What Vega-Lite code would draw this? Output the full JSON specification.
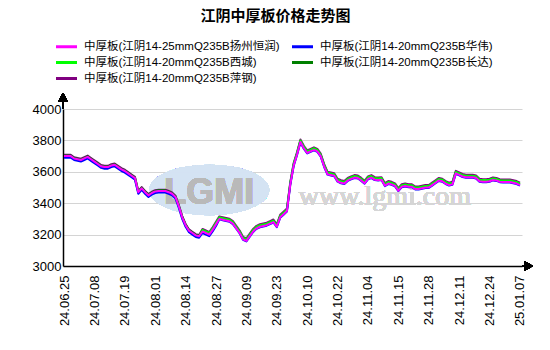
{
"$schema":"https://vega.github.io/schema/vega-lite/v6.json",
"width":459,"height":157,
"autosize":"none",
"padding":{"left":63,"top":109,"right":28,"bottom":84},
"background":"white",
"config":{"view":{"stroke":null},"font":"Liberation Sans, Noto Sans CJK SC",
 "axis":{"labelOverlap":false,"labelFlush":false,"ticks":false,"domainColor":"black","domainWidth":1.5,"labelColor":"black","labelFontSize":13,"title":null},
 "axisX":{"grid":false,"labelAngle":270,"labelPadding":9,
   "labelExpr":"['24.06.25','24.07.08','24.07.19','24.08.01','24.08.14','24.08.27','24.09.09','24.09.23','24.10.10','24.10.22','24.11.04','24.11.15','24.11.28','24.12.11','24.12.24','25.01.07'][round(datum.value/9)]"},
 "axisY":{"grid":true,"gridColor":"#d4d4d4","labelPadding":2,"format":"d"}},
"title":{"text":"江阴中厚板价格走势图","fontSize":15,"fontWeight":"bold","font":"Liberation Sans, Noto Sans CJK SC","color":"black","anchor":"middle","frame":"group","dx":-17,"offset":15},
"data":{"values":[
{"i":0,"d":"24.06.25","hr":3700,"hw":3690,"xc":3697,"cd":3704,"pg":3708},
{"i":1,"d":"24.06.26","hr":3700,"hw":3690,"xc":3697,"cd":3704,"pg":3708},
{"i":2,"d":"24.06.27","hr":3700,"hw":3690,"xc":3697,"cd":3704,"pg":3708},
{"i":3,"d":"24.06.28","hr":3685,"hw":3675,"xc":3682,"cd":3689,"pg":3693},
{"i":4,"d":"24.07.01","hr":3680,"hw":3670,"xc":3677,"cd":3684,"pg":3688},
{"i":5,"d":"24.07.02","hr":3675,"hw":3665,"xc":3672,"cd":3679,"pg":3683},
{"i":6,"d":"24.07.03","hr":3685,"hw":3675,"xc":3682,"cd":3689,"pg":3693},
{"i":7,"d":"24.07.04","hr":3695,"hw":3685,"xc":3692,"cd":3699,"pg":3703},
{"i":8,"d":"24.07.05","hr":3680,"hw":3670,"xc":3677,"cd":3684,"pg":3688},
{"i":9,"d":"24.07.08","hr":3665,"hw":3655,"xc":3662,"cd":3669,"pg":3673},
{"i":10,"d":"24.07.09","hr":3650,"hw":3640,"xc":3647,"cd":3654,"pg":3658},
{"i":11,"d":"24.07.10","hr":3635,"hw":3625,"xc":3632,"cd":3639,"pg":3643},
{"i":12,"d":"24.07.11","hr":3630,"hw":3620,"xc":3627,"cd":3634,"pg":3638},
{"i":13,"d":"24.07.12","hr":3630,"hw":3620,"xc":3627,"cd":3634,"pg":3638},
{"i":14,"d":"24.07.15","hr":3640,"hw":3630,"xc":3637,"cd":3644,"pg":3648},
{"i":15,"d":"24.07.16","hr":3645,"hw":3635,"xc":3642,"cd":3649,"pg":3653},
{"i":16,"d":"24.07.17","hr":3630,"hw":3620,"xc":3627,"cd":3634,"pg":3638},
{"i":17,"d":"24.07.18","hr":3615,"hw":3605,"xc":3612,"cd":3619,"pg":3623},
{"i":18,"d":"24.07.19","hr":3605,"hw":3595,"xc":3602,"cd":3609,"pg":3613},
{"i":19,"d":"24.07.22","hr":3590,"hw":3580,"xc":3587,"cd":3594,"pg":3598},
{"i":20,"d":"24.07.23","hr":3575,"hw":3565,"xc":3572,"cd":3579,"pg":3583},
{"i":21,"d":"24.07.24","hr":3560,"hw":3550,"xc":3557,"cd":3564,"pg":3568},
{"i":22,"d":"24.07.25","hr":3470,"hw":3460,"xc":3467,"cd":3474,"pg":3478},
{"i":23,"d":"24.07.26","hr":3495,"hw":3485,"xc":3492,"cd":3499,"pg":3503},
{"i":24,"d":"24.07.29","hr":3470,"hw":3460,"xc":3467,"cd":3474,"pg":3478},
{"i":25,"d":"24.07.30","hr":3450,"hw":3440,"xc":3447,"cd":3454,"pg":3458},
{"i":26,"d":"24.07.31","hr":3465,"hw":3455,"xc":3462,"cd":3469,"pg":3473},
{"i":27,"d":"24.08.01","hr":3475,"hw":3465,"xc":3472,"cd":3479,"pg":3483},
{"i":28,"d":"24.08.02","hr":3478,"hw":3468,"xc":3475,"cd":3482,"pg":3486},
{"i":29,"d":"24.08.05","hr":3478,"hw":3468,"xc":3475,"cd":3482,"pg":3486},
{"i":30,"d":"24.08.06","hr":3478,"hw":3468,"xc":3475,"cd":3482,"pg":3486},
{"i":31,"d":"24.08.07","hr":3470,"hw":3460,"xc":3467,"cd":3474,"pg":3478},
{"i":32,"d":"24.08.08","hr":3460,"hw":3450,"xc":3457,"cd":3464,"pg":3468},
{"i":33,"d":"24.08.09","hr":3440,"hw":3430,"xc":3437,"cd":3444,"pg":3448},
{"i":34,"d":"24.08.12","hr":3380,"hw":3370,"xc":3377,"cd":3384,"pg":3388},
{"i":35,"d":"24.08.13","hr":3310,"hw":3300,"xc":3307,"cd":3314,"pg":3318},
{"i":36,"d":"24.08.14","hr":3260,"hw":3250,"xc":3257,"cd":3264,"pg":3268},
{"i":37,"d":"24.08.15","hr":3225,"hw":3215,"xc":3222,"cd":3229,"pg":3233},
{"i":38,"d":"24.08.16","hr":3210,"hw":3200,"xc":3207,"cd":3214,"pg":3218},
{"i":39,"d":"24.08.19","hr":3195,"hw":3185,"xc":3192,"cd":3199,"pg":3203},
{"i":40,"d":"24.08.20","hr":3190,"hw":3180,"xc":3187,"cd":3194,"pg":3198},
{"i":41,"d":"24.08.21","hr":3220,"hw":3210,"xc":3230,"cd":3227,"pg":3236},
{"i":42,"d":"24.08.22","hr":3210,"hw":3200,"xc":3220,"cd":3217,"pg":3226},
{"i":43,"d":"24.08.23","hr":3200,"hw":3190,"xc":3210,"cd":3207,"pg":3216},
{"i":44,"d":"24.08.26","hr":3230,"hw":3220,"xc":3240,"cd":3237,"pg":3246},
{"i":45,"d":"24.08.27","hr":3265,"hw":3255,"xc":3275,"cd":3272,"pg":3281},
{"i":46,"d":"24.08.28","hr":3300,"hw":3297,"xc":3310,"cd":3307,"pg":3316},
{"i":47,"d":"24.08.29","hr":3295,"hw":3292,"xc":3305,"cd":3302,"pg":3311},
{"i":48,"d":"24.08.30","hr":3290,"hw":3287,"xc":3300,"cd":3297,"pg":3306},
{"i":49,"d":"24.09.02","hr":3285,"hw":3282,"xc":3295,"cd":3292,"pg":3301},
{"i":50,"d":"24.09.03","hr":3270,"hw":3267,"xc":3280,"cd":3277,"pg":3286},
{"i":51,"d":"24.09.04","hr":3240,"hw":3237,"xc":3250,"cd":3247,"pg":3256},
{"i":52,"d":"24.09.05","hr":3210,"hw":3207,"xc":3220,"cd":3217,"pg":3226},
{"i":53,"d":"24.09.06","hr":3170,"hw":3167,"xc":3180,"cd":3177,"pg":3186},
{"i":54,"d":"24.09.09","hr":3160,"hw":3157,"xc":3170,"cd":3167,"pg":3176},
{"i":55,"d":"24.09.10","hr":3190,"hw":3187,"xc":3200,"cd":3197,"pg":3206},
{"i":56,"d":"24.09.11","hr":3220,"hw":3217,"xc":3230,"cd":3227,"pg":3236},
{"i":57,"d":"24.09.12","hr":3240,"hw":3237,"xc":3250,"cd":3247,"pg":3256},
{"i":58,"d":"24.09.13","hr":3250,"hw":3247,"xc":3260,"cd":3257,"pg":3266},
{"i":59,"d":"24.09.14","hr":3255,"hw":3252,"xc":3265,"cd":3262,"pg":3271},
{"i":60,"d":"24.09.18","hr":3260,"hw":3257,"xc":3270,"cd":3267,"pg":3276},
{"i":61,"d":"24.09.19","hr":3270,"hw":3267,"xc":3280,"cd":3277,"pg":3286},
{"i":62,"d":"24.09.20","hr":3280,"hw":3277,"xc":3290,"cd":3287,"pg":3296},
{"i":63,"d":"24.09.23","hr":3250,"hw":3247,"xc":3260,"cd":3257,"pg":3266},
{"i":64,"d":"24.09.24","hr":3310,"hw":3307,"xc":3320,"cd":3317,"pg":3326},
{"i":65,"d":"24.09.25","hr":3330,"hw":3327,"xc":3340,"cd":3337,"pg":3346},
{"i":66,"d":"24.09.26","hr":3350,"hw":3347,"xc":3360,"cd":3357,"pg":3366},
{"i":67,"d":"24.09.27","hr":3520,"hw":3517,"xc":3530,"cd":3527,"pg":3536},
{"i":68,"d":"24.09.29","hr":3640,"hw":3637,"xc":3650,"cd":3647,"pg":3656},
{"i":69,"d":"24.09.30","hr":3710,"hw":3707,"xc":3720,"cd":3717,"pg":3726},
{"i":70,"d":"24.10.08","hr":3790,"hw":3787,"xc":3800,"cd":3797,"pg":3806},
{"i":71,"d":"24.10.09","hr":3750,"hw":3747,"xc":3760,"cd":3757,"pg":3766},
{"i":72,"d":"24.10.10","hr":3720,"hw":3717,"xc":3730,"cd":3727,"pg":3736},
{"i":73,"d":"24.10.11","hr":3730,"hw":3727,"xc":3740,"cd":3737,"pg":3746},
{"i":74,"d":"24.10.12","hr":3740,"hw":3737,"xc":3750,"cd":3747,"pg":3756},
{"i":75,"d":"24.10.14","hr":3730,"hw":3727,"xc":3740,"cd":3737,"pg":3746},
{"i":76,"d":"24.10.15","hr":3700,"hw":3697,"xc":3710,"cd":3707,"pg":3716},
{"i":77,"d":"24.10.16","hr":3635,"hw":3632,"xc":3645,"cd":3642,"pg":3651},
{"i":78,"d":"24.10.17","hr":3585,"hw":3582,"xc":3595,"cd":3592,"pg":3601},
{"i":79,"d":"24.10.18","hr":3580,"hw":3577,"xc":3590,"cd":3587,"pg":3596},
{"i":80,"d":"24.10.21","hr":3575,"hw":3572,"xc":3585,"cd":3582,"pg":3591},
{"i":81,"d":"24.10.22","hr":3540,"hw":3537,"xc":3550,"cd":3547,"pg":3556},
{"i":82,"d":"24.10.23","hr":3530,"hw":3527,"xc":3540,"cd":3537,"pg":3546},
{"i":83,"d":"24.10.24","hr":3525,"hw":3522,"xc":3535,"cd":3532,"pg":3541},
{"i":84,"d":"24.10.25","hr":3545,"hw":3542,"xc":3555,"cd":3552,"pg":3561},
{"i":85,"d":"24.10.28","hr":3555,"hw":3552,"xc":3565,"cd":3562,"pg":3571},
{"i":86,"d":"24.10.29","hr":3563,"hw":3560,"xc":3573,"cd":3570,"pg":3579},
{"i":87,"d":"24.10.30","hr":3560,"hw":3557,"xc":3570,"cd":3567,"pg":3576},
{"i":88,"d":"24.10.31","hr":3545,"hw":3542,"xc":3555,"cd":3552,"pg":3561},
{"i":89,"d":"24.11.01","hr":3527,"hw":3524,"xc":3537,"cd":3534,"pg":3543},
{"i":90,"d":"24.11.04","hr":3555,"hw":3552,"xc":3565,"cd":3562,"pg":3571},
{"i":91,"d":"24.11.05","hr":3563,"hw":3560,"xc":3573,"cd":3570,"pg":3579},
{"i":92,"d":"24.11.06","hr":3550,"hw":3547,"xc":3560,"cd":3557,"pg":3566},
{"i":93,"d":"24.11.07","hr":3548,"hw":3545,"xc":3558,"cd":3555,"pg":3564},
{"i":94,"d":"24.11.08","hr":3550,"hw":3547,"xc":3560,"cd":3557,"pg":3566},
{"i":95,"d":"24.11.11","hr":3512,"hw":3509,"xc":3522,"cd":3519,"pg":3528},
{"i":96,"d":"24.11.12","hr":3525,"hw":3522,"xc":3535,"cd":3532,"pg":3541},
{"i":97,"d":"24.11.13","hr":3520,"hw":3517,"xc":3530,"cd":3527,"pg":3536},
{"i":98,"d":"24.11.14","hr":3510,"hw":3507,"xc":3520,"cd":3517,"pg":3526},
{"i":99,"d":"24.11.15","hr":3480,"hw":3477,"xc":3490,"cd":3487,"pg":3496},
{"i":100,"d":"24.11.18","hr":3505,"hw":3502,"xc":3515,"cd":3512,"pg":3521},
{"i":101,"d":"24.11.19","hr":3510,"hw":3507,"xc":3520,"cd":3517,"pg":3526},
{"i":102,"d":"24.11.20","hr":3505,"hw":3502,"xc":3515,"cd":3512,"pg":3521},
{"i":103,"d":"24.11.21","hr":3505,"hw":3502,"xc":3515,"cd":3512,"pg":3521},
{"i":104,"d":"24.11.22","hr":3490,"hw":3487,"xc":3500,"cd":3497,"pg":3506},
{"i":105,"d":"24.11.25","hr":3490,"hw":3487,"xc":3500,"cd":3497,"pg":3506},
{"i":106,"d":"24.11.26","hr":3495,"hw":3492,"xc":3505,"cd":3502,"pg":3511},
{"i":107,"d":"24.11.27","hr":3500,"hw":3497,"xc":3510,"cd":3507,"pg":3516},
{"i":108,"d":"24.11.28","hr":3500,"hw":3497,"xc":3510,"cd":3507,"pg":3516},
{"i":109,"d":"24.11.29","hr":3515,"hw":3512,"xc":3525,"cd":3522,"pg":3531},
{"i":110,"d":"24.12.02","hr":3530,"hw":3527,"xc":3540,"cd":3537,"pg":3546},
{"i":111,"d":"24.12.03","hr":3545,"hw":3542,"xc":3555,"cd":3552,"pg":3561},
{"i":112,"d":"24.12.04","hr":3540,"hw":3537,"xc":3550,"cd":3547,"pg":3556},
{"i":113,"d":"24.12.05","hr":3525,"hw":3522,"xc":3535,"cd":3532,"pg":3541},
{"i":114,"d":"24.12.06","hr":3515,"hw":3512,"xc":3525,"cd":3522,"pg":3531},
{"i":115,"d":"24.12.09","hr":3520,"hw":3517,"xc":3530,"cd":3527,"pg":3536},
{"i":116,"d":"24.12.10","hr":3590,"hw":3587,"xc":3600,"cd":3597,"pg":3606},
{"i":117,"d":"24.12.11","hr":3580,"hw":3577,"xc":3590,"cd":3587,"pg":3596},
{"i":118,"d":"24.12.12","hr":3570,"hw":3567,"xc":3580,"cd":3577,"pg":3586},
{"i":119,"d":"24.12.13","hr":3565,"hw":3562,"xc":3575,"cd":3572,"pg":3581},
{"i":120,"d":"24.12.16","hr":3565,"hw":3562,"xc":3575,"cd":3572,"pg":3581},
{"i":121,"d":"24.12.17","hr":3565,"hw":3562,"xc":3575,"cd":3572,"pg":3581},
{"i":122,"d":"24.12.18","hr":3560,"hw":3557,"xc":3570,"cd":3567,"pg":3576},
{"i":123,"d":"24.12.19","hr":3540,"hw":3537,"xc":3550,"cd":3547,"pg":3556},
{"i":124,"d":"24.12.20","hr":3537,"hw":3534,"xc":3547,"cd":3544,"pg":3553},
{"i":125,"d":"24.12.23","hr":3537,"hw":3534,"xc":3547,"cd":3544,"pg":3553},
{"i":126,"d":"24.12.24","hr":3540,"hw":3537,"xc":3550,"cd":3547,"pg":3556},
{"i":127,"d":"24.12.25","hr":3548,"hw":3545,"xc":3558,"cd":3555,"pg":3564},
{"i":128,"d":"24.12.26","hr":3545,"hw":3542,"xc":3555,"cd":3552,"pg":3561},
{"i":129,"d":"24.12.27","hr":3537,"hw":3534,"xc":3547,"cd":3544,"pg":3553},
{"i":130,"d":"24.12.30","hr":3535,"hw":3532,"xc":3545,"cd":3542,"pg":3551},
{"i":131,"d":"24.12.31","hr":3535,"hw":3532,"xc":3545,"cd":3542,"pg":3551},
{"i":132,"d":"25.01.02","hr":3535,"hw":3532,"xc":3545,"cd":3542,"pg":3551},
{"i":133,"d":"25.01.03","hr":3530,"hw":3527,"xc":3540,"cd":3537,"pg":3546},
{"i":134,"d":"25.01.06","hr":3525,"hw":3522,"xc":3535,"cd":3532,"pg":3541},
{"i":135,"d":"25.01.07","hr":3515,"hw":3512,"xc":3525,"cd":3522,"pg":3531}
]},
"layer":[
{"mark":{"type":"point","shape":"M-1,0A1,0.42,0,1,1,1,0A1,0.42,0,1,1,-1,0Z","filled":true,"color":"#d3e2f3","opacity":0.8,"size":14400},
 "encoding":{"x":{"datum":43,"axis":{"values":[0,9,18,27,36,45,54,63,72,81,90,99,108,117,126,135]}},"y":{"datum":3484}}},
{"mark":{"type":"text","text":"LGMI","font":"Liberation Sans","fontWeight":"bold","fontSize":36,"color":"#b9b9b9","opacity":0.8,"align":"center","baseline":"middle"},
 "encoding":{"x":{"datum":43,"axis":{"values":[0,9,18,27,36,45,54,63,72,81,90,99,108,117,126,135]}},"y":{"datum":3465}}},
{"mark":{"type":"text","text":"www.lgmi.com","font":"Liberation Serif","fontSize":28,"color":"#d6d6d6","align":"center","baseline":"middle"},
 "encoding":{"x":{"datum":95,"axis":{"values":[0,9,18,27,36,45,54,63,72,81,90,99,108,117,126,135]}},"y":{"datum":3440}}},
{"mark":{"type":"rule","color":"black","strokeWidth":1.5,"clip":false},
 "encoding":{"x":{"datum":-0.3,"axis":{"values":[0,9,18,27,36,45,54,63,72,81,90,99,108,117,126,135]}},"y":{"datum":4000},"y2":{"datum":4070}}},
{"mark":{"type":"point","shape":"triangle-up","filled":true,"color":"black","opacity":1,"size":90,"clip":false},
 "encoding":{"x":{"datum":-0.3,"axis":{"values":[0,9,18,27,36,45,54,63,72,81,90,99,108,117,126,135]}},"y":{"datum":4075}}},
{"mark":{"type":"rule","color":"black","strokeWidth":1.5,"clip":false},
 "encoding":{"x":{"datum":135.6,"axis":{"values":[0,9,18,27,36,45,54,63,72,81,90,99,108,117,126,135]}},"x2":{"datum":137},"y":{"datum":3000}}},
{"mark":{"type":"point","shape":"triangle-right","filled":true,"color":"black","opacity":1,"size":90,"clip":false},
 "encoding":{"x":{"datum":137.6,"axis":{"values":[0,9,18,27,36,45,54,63,72,81,90,99,108,117,126,135]}},"y":{"datum":3000}}},
{"transform":[{"fold":["pg","cd","xc","hw","hr"],"as":["s","v"]}],
 "mark":{"type":"line","strokeWidth":2,"strokeJoin":"round"},
 "encoding":{
  "x":{"field":"i","type":"quantitative","scale":{"domain":[-0.3,135.6],"nice":false,"zero":false},"axis":{"values":[0,9,18,27,36,45,54,63,72,81,90,99,108,117,126,135]}},
  "y":{"field":"v","type":"quantitative","scale":{"domain":[3000,4000],"nice":false,"zero":false}},
  "color":{"field":"s","type":"nominal",
   "scale":{"domain":["hr","xc","pg","hw","cd"],"range":["#ff00ff","#00ff00","#800080","#0000ff","#008000"]},
   "legend":{"title":null,"orient":"none","legendX":-4,"legendY":-70,"columns":2,"columnPadding":6,"rowPadding":2,
    "symbolType":"M-1.75,0H1.75","symbolStrokeWidth":3,"symbolSize":144,"labelFontSize":11.5,"labelColor":"black","labelOffset":10,"labelLimit":400,
    "labelExpr":"{'hr':'中厚板(江阴14-25mmQ235B扬州恒润)','hw':'中厚板(江阴14-20mmQ235B华伟)','xc':'中厚板(江阴14-20mmQ235B西城)','cd':'中厚板(江阴14-20mmQ235B长达)','pg':'中厚板(江阴14-20mmQ235B萍钢)'}[datum.label]"}}
 }}
]
}
